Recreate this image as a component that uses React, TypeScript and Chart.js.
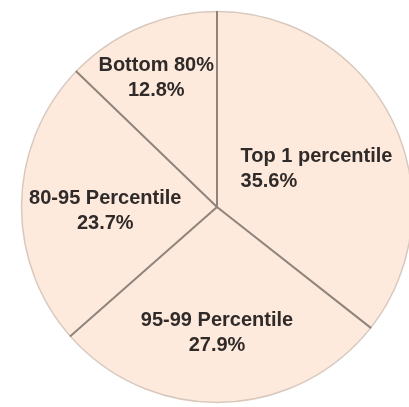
import React, { useEffect, useRef } from "react";
import { Chart, registerables } from "chart.js";

Chart.register(...registerables);

const categories = ["Top 1 percentile", "95-99 Percentile", "80-95 Percentile", "Bottom 80%"];
const shares = [35.6, 27.9, 23.7, 12.8];
const percentLabels = ["35.6%", "27.9%", "23.7%", "12.8%"];

// label placement relative to pie centre, as fractions of the radius
const labelAnchors: [number, number, CanvasTextAlign][] = [
  [0.12, -0.195, "left"],
  [0.0, 0.645, "center"],
  [-0.57, 0.02, "center"],
  [-0.31, -0.66, "center"],
];

const FILL = "#FDEADD";
const LINE = "#8f837b";

const piePlugin = {
  id: "pieDecor",
  afterDatasetsDraw(chart: any) {
    const { ctx } = chart;
    const meta = chart.getDatasetMeta(0);
    const arcs = meta.data;
    if (!arcs.length) return;
    const cx = arcs[0].x;
    const cy = arcs[0].y;
    const r = arcs[0].outerRadius;
    ctx.save();
    // outer faint edge
    ctx.beginPath();
    ctx.arc(cx, cy, r - 0.5, 0, Math.PI * 2);
    ctx.strokeStyle = "rgba(150,135,125,0.35)";
    ctx.lineWidth = 1.5;
    ctx.stroke();
    // radial separators
    ctx.strokeStyle = LINE;
    ctx.lineWidth = 2;
    arcs.forEach((a: any) => {
      ctx.beginPath();
      ctx.moveTo(cx, cy);
      ctx.lineTo(cx + Math.cos(a.startAngle) * r, cy + Math.sin(a.startAngle) * r);
      ctx.stroke();
    });
    // labels
    ctx.fillStyle = "#302a29";
    ctx.font = "bold 20px 'Liberation Sans', Arial, sans-serif";
    ctx.textBaseline = "middle";
    arcs.forEach((_a: any, i: number) => {
      const [fx, fy, align] = labelAnchors[i];
      ctx.textAlign = align;
      const x = cx + fx * r;
      const y = cy + fy * r;
      ctx.fillText(categories[i], x, y - 12.5);
      ctx.fillText(percentLabels[i], x, y + 12.5);
    });
    ctx.restore();
  },
};

export default function App() {
  const ref = useRef<HTMLCanvasElement | null>(null);
  useEffect(() => {
    document.body.style.margin = "0";
    document.body.style.overflow = "hidden";
    document.body.style.background = "#ffffff";
    const chart = new Chart(ref.current!, {
      type: "pie",
      data: {
        labels: categories,
        datasets: [
          {
            data: shares,
            backgroundColor: FILL,
            borderWidth: 0,
          },
        ],
      },
      options: {
        responsive: false,
        animation: false,
        layout: { padding: { left: 21, right: 17, top: 11, bottom: 7 } },
        plugins: { legend: { display: false }, tooltip: { enabled: false } },
      },
      plugins: [piePlugin],
    });
    return () => chart.destroy();
  }, []);
  return (
    <div style={{ width: 409, height: 407, overflow: "hidden", position: "relative", background: "#fff" }}>
      <canvas ref={ref} width={430} height={410} style={{ display: "block" }} />
    </div>
  );
}
